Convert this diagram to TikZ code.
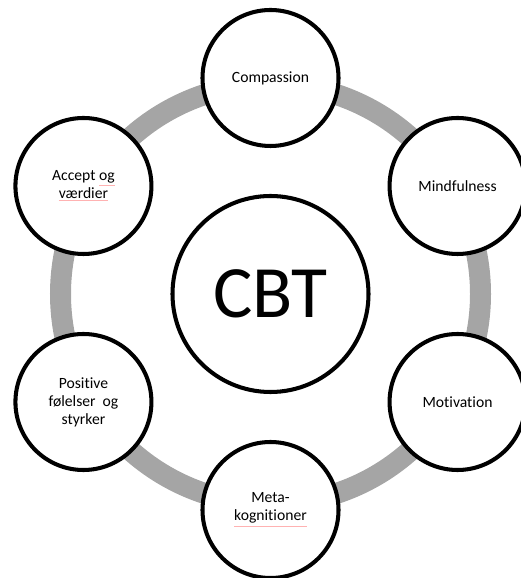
\documentclass[tikz,border=0pt]{standalone}
\usepackage{fontspec}
\setmainfont{Carlito}[Ligatures=NoCommon]
\usepackage{xcolor}
\usepackage{tikz}
\usetikzlibrary{positioning}
\definecolor{ringgray}{HTML}{A5A5A5}
\newcommand{\misspelt}[1]{{\color{red!30}\underline{\color{black}#1}}}

\begin{document}
\begin{tikzpicture}[transform shape,scale=1,
	topic/.style={circle,draw=black,fill=white,line width=2.3pt,minimum size=2.72cm,inner sep=0pt,align=center,font=\fontsize{8.9}{10.2}\selectfont},
	core/.style={circle,draw=black,fill=white,line width=2.3pt,minimum size=3.92cm,inner sep=0pt,font=\fontsize{42}{44}\selectfont}]
	\useasboundingbox (-5.41,-5.68) rectangle (4.99,5.88);
	\draw[ringgray,line width=0.42cm] (0,0) circle (4.2);
	\node[core] (cbt) at (0,0) {CBT};
	\node[topic] (compassion) at (90:4.32) {Compassion};
	\node[topic] (mindfulness) at (30:4.32) {Mindfulness};
	\node[topic] (motivation) at (-30:4.32) {Motivation};
	\node[topic] (meta) at (-90:4.32) {Meta-\\\misspelt{kognitioner}};
	\node[topic] (positive) at (210:4.32) {Positive\\følelser\ \ og\\styrker};
	\node[topic] (accept) at (150:4.32) {Accept \misspelt{og}\\\misspelt{værdier}};
\end{tikzpicture}
\end{document}
